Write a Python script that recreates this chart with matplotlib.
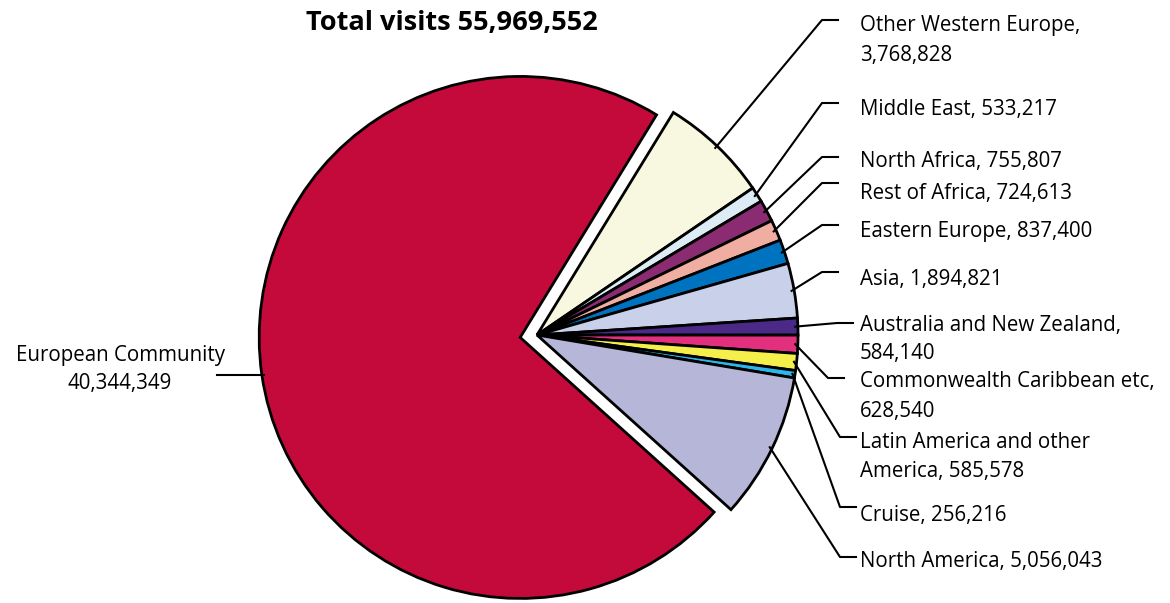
import matplotlib.pyplot as plt
import numpy as np

# data, clockwise from the top
regions = [ 'Other Western Europe', 'Middle East', 'North Africa', 'Rest of Africa',
            'Eastern Europe', 'Asia', 'Australia and New Zealand',
            'Commonwealth Caribbean etc', 'Latin America and other America',
            'Cruise', 'North America', 'European Community' ]
visits = [ 3768828, 533217, 755807, 724613, 837400, 1894821, 584140,
           628540, 585578, 256216, 5056043, 40344349 ]
labels = [ 'Other Western Europe,\n3,768,828', 'Middle East, 533,217',
           'North Africa, 755,807', 'Rest of Africa, 724,613',
           'Eastern Europe, 837,400', 'Asia, 1,894,821',
           'Australia and New Zealand,\n584,140',
           'Commonwealth Caribbean etc,\n628,540',
           'Latin America and other\nAmerica, 585,578',
           'Cruise, 256,216', 'North America, 5,056,043',
           'European Community\n40,344,349' ]
colors = [ '#f8f8e1', '#dcebf4', '#8b2c72', '#f0aea3', '#0073c0', '#c8d0ea',
           '#4a2a86', '#e2307f', '#f5ef4c', '#2cb7ea', '#b5b6d8', '#c30a3a' ]

W, H = 1170, 603
fig = plt.figure( figsize = ( W / 100, H / 100 ), dpi = 100 )
ax = fig.add_axes( [ 0, 0, 1, 1 ] )

font = 'Open Sans'
cx, cy, R = 537, H - 335, 261
explode = [ 0 ] * 11 + [ 17 ]   # pie explode is in data units here (pixels)

wedges, _ = ax.pie( visits, colors = colors, startangle = 58.5, counterclock = False,
                    center = ( cx, cy ), radius = R, explode = explode,
                    wedgeprops = dict( edgecolor = 'k', linewidth = 2.0 ) )

ax.set_xlim( 0, W )
ax.set_ylim( 0, H )
ax.set_aspect( 'equal' )
ax.axis( 'off' )

# label layout in pixel rows (from top): leader row, first text row, elbow x
rows = [ 20, 103, 157, 183, 225, 272, 323, 378, 437, 507, 557 ]
text_rows = [ 24, 107, 159, 192, 230, 278, 323, 380, 440, 513, 560 ]
elbow_x = [ 822, 822, 822, 822, 822, 822, 837, 828, 840, 840, 840 ]
text_x = 860
fs = 14.8
gap = 29

def put_label( x, row, text, ha ):
    for j, line in enumerate( text.split( '\n' ) ):
        ax.text( x, H - ( row + 7.5 + gap * j ), line, ha = ha, va = 'baseline',
                 fontsize = fs, family = font )

for i, w in enumerate( wedges ):
    ang = np.deg2rad( ( w.theta1 + w.theta2 ) / 2 )
    ox, oy = w.center
    px = ox + 0.99 * R * np.cos( ang )
    py = oy + 0.99 * R * np.sin( ang )
    if i == 11:
        ax.plot( [ px, 217 ], [ py, py ], color = 'k', lw = 1.5 )
        put_label( 120, 353, labels[ i ], 'center' )
        continue
    ry = H - rows[ i ]
    ax.plot( [ px, elbow_x[ i ], elbow_x[ i ] + 16 ], [ py, ry, ry ],
             color = 'k', lw = 1.5 )
    put_label( text_x, text_rows[ i ], labels[ i ], 'left' )

ax.text( 452, H - 30, 'Total visits 55,969,552', ha = 'center', va = 'baseline',
         fontsize = 19.5, fontweight = 'bold', family = font )

plt.savefig( 'out.png', dpi = 100 )
